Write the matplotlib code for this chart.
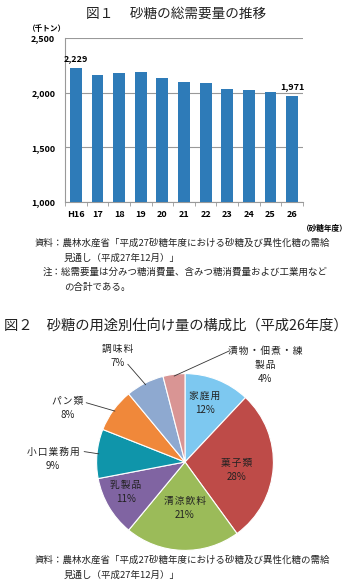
#!/usr/bin/env python3

import numpy as np
import matplotlib
matplotlib.use("Agg")
import matplotlib.pyplot as plt

plt.rcParams["font.family"] = ["Noto Sans CJK JP", "DejaVu Sans"]

# --- data -----------------------------------------------------------------
years = ["H16", "17", "18", "19", "20", "21", "22", "23", "24", "25", "26"]
demand = [2229, 2162, 2177, 2190, 2131, 2095, 2088, 2034, 2022, 2004, 1971]
y_ticks = [1000, 1500, 2000, 2500]

uses = ["家庭用", "菓子類", "清涼飲料", "乳製品", "小口業務用", "パン類", "調味料",
        "漬物・佃煮・練\n製品"]
shares = [12, 28, 21, 11, 9, 8, 7, 4]
pie_colors = ["#7DC8F0", "#BE4B48", "#9BBB59", "#8064A2", "#0F95AA",
              "#F0883A", "#8EA9D0", "#D99594"]

W, H = 350, 586


def px(x, y):
    return x / W, 1 - y / H


def spaced(s):
    # the labels in the original are slightly letter-spaced
    return "\n".join("\u200a".join(line) for line in s.split("\n"))


def main() -> None:
    fig = plt.figure(figsize=(W / 100, H / 100), dpi=100)

    # --- figure 1: bar chart ----------------------------------------------
    fig.text(*px(176, 14), "図１　 砂糖の総需要量の推移", ha="center", va="center",
             fontsize=9.8, color="#222222")
    ax = fig.add_axes([65 / W, 1 - 202 / H, (303 - 65) / W, (202 - 38) / H])
    x = np.arange(len(years))
    ax.bar(x, demand, width=0.55, color="#2E7BB8", zorder=3)
    ax.set_ylim(1000, 2500)
    ax.set_xlim(-0.5, len(years) - 0.5)
    ax.set_yticks(y_ticks)
    ax.set_yticklabels([f"{v:,}" for v in y_ticks], fontweight="bold", fontsize=6.5)
    ax.set_xticks(x)
    ax.set_xticklabels(years, fontweight="bold", fontsize=6.5)
    ax.tick_params(axis="x", length=0, pad=6)
    ax.tick_params(axis="y", length=0, pad=7)
    ax.set_xticks(np.arange(len(years) + 1) - 0.5, minor=True)
    ax.tick_params(axis="x", which="minor", length=3, color="#999999", direction="out")
    ax.grid(axis="y", color="#999999", linewidth=0.8, zorder=0)
    for s in ["top", "right"]:
        ax.spines[s].set_visible(False)
    for s in ["left", "bottom"]:
        ax.spines[s].set_color("#999999")
    ax.text(x[0], demand[0] + 40, f"{demand[0]:,}", ha="center", va="bottom",
            fontsize=6.5, fontweight="bold")
    ax.text(x[-1], demand[-1] + 40, f"{demand[-1]:,}", ha="center", va="bottom",
            fontsize=6.5, fontweight="bold")
    fig.text(*px(47, 28), "（千トン）", ha="center", va="center", fontsize=5.5,
             fontweight="bold")
    fig.text(*px(348, 228), "（砂糖年度）", ha="right", va="center", fontsize=5.5,
             fontweight="bold")

    note = dict(fontsize=6.8, va="center", color="#222222")
    fig.text(*px(35, 243), "資料：農林水産省「平成27砂糖年度における砂糖及び異性化糖の需給", **note)
    fig.text(*px(64, 258), "見通し（平成27年12月）」", **note)
    fig.text(*px(43, 272), "注：総需要量は分みつ糖消費量、含みつ糖消費量および工業用など", **note)
    fig.text(*px(64, 287), "の合計である。", **note)

    # --- figure 2: pie chart ----------------------------------------------
    fig.text(*px(176, 326), "図２　砂糖の用途別仕向け量の構成比（平成26年度）",
             ha="center", va="center", fontsize=10.3, color="#222222")
    r_px = 85
    cx, cy = 185, 462
    box = 1.3 * r_px
    pax = fig.add_axes([(cx - box) / W, 1 - (cy + box) / H, 2 * box / W, 2 * box / H])
    pax.set_xlim(-1.3, 1.3)
    pax.set_ylim(-1.3, 1.3)
    pax.set_aspect("equal")
    pax.axis("off")
    wedges, _ = pax.pie(shares, colors=pie_colors, startangle=90, counterclock=False,
                        radius=1.0, wedgeprops=dict(edgecolor="white", linewidth=0.8))

    def to_data(xp, yp):
        return (xp - cx) / r_px, (cy - yp) / r_px

    lab = dict(fontsize=7, color="#222222", ha="center", va="center", linespacing=1.5)
    # inside labels
    inside = {0: (204, 405), 1: (235, 470), 2: (185, 506), 3: (128, 491)}
    for i, (xp, yp) in inside.items():
        pax.text(*to_data(xp, yp), f"{spaced(uses[i])}\n{shares[i]}%", **lab)

    # outside labels with leader lines
    outside = {
        4: ((58, 459), (88, 452)),
        5: ((72, 410), (90, 405)),
        6: ((120, 360), (130, 368)),
        7: ((262, 369), (228, 355)),
    }
    for i, ((xp, yp), (lx, ly)) in outside.items():
        w = wedges[i]
        ang = np.deg2rad((w.theta1 + w.theta2) / 2)
        edge = (np.cos(ang) * 0.98, np.sin(ang) * 0.98)
        pax.annotate("", xy=edge, xytext=to_data(lx, ly),
                     arrowprops=dict(arrowstyle="-", color="#333333", lw=0.6,
                                     shrinkA=0, shrinkB=0))
        pax.text(*to_data(xp, yp), f"{spaced(uses[i])}\n{shares[i]}%", **lab)

    fig.text(*px(35, 560), "資料：農林水産省「平成27砂糖年度における砂糖及び異性化糖の需給", **note)
    fig.text(*px(64, 575), "見通し（平成27年12月）」", **note)

    fig.savefig("out.png", dpi=100, facecolor="white")


if __name__ == "__main__":
    main()
